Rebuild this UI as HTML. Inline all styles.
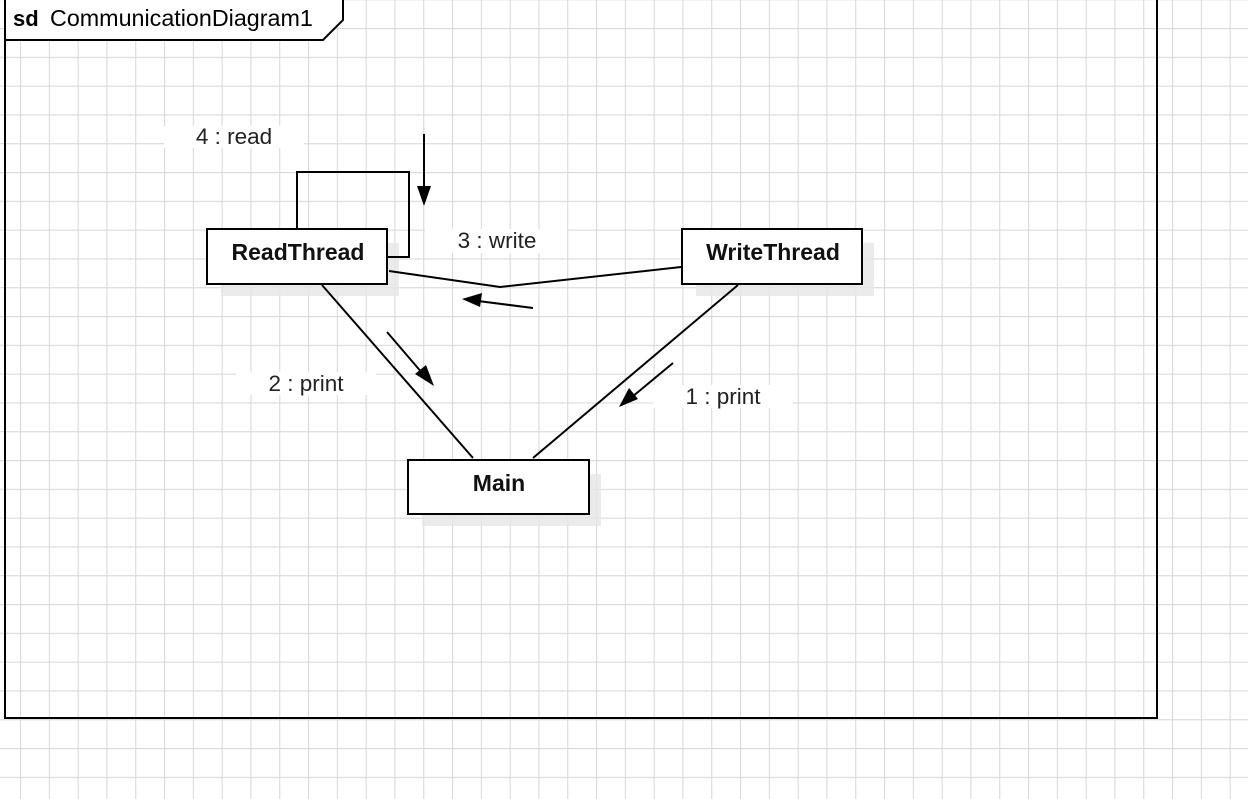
<!DOCTYPE html>
<html><head><meta charset="utf-8"><style>
html,body{margin:0;padding:0;background:#fff;}
svg{display:block;}
text{font-family:"Liberation Sans",Arial,sans-serif;}
</style></head><body>
<svg width="1248" height="799" viewBox="0 0 1248 799" xmlns="http://www.w3.org/2000/svg">
<defs>
<pattern id="g" x="20" y="28" width="28.8" height="28.8" patternUnits="userSpaceOnUse">
<path d="M0 0V28.8M0 0H28.8" stroke="#d9d9d9" stroke-width="2.2" fill="none"/>
</pattern>
</defs>
<rect width="1248" height="799" fill="#fff"/>
<rect x="-10" y="-10" width="1270" height="820" fill="url(#g)"/>
<rect x="5" y="-2" width="1152" height="720" fill="none" stroke="#000" stroke-width="2"/>
<path d="M5 -2H343V20L323 40H5Z" fill="#fff" stroke="#000" stroke-width="2"/>
<text x="13" y="26" font-size="22" font-weight="bold">sd</text>
<text x="50" y="26" font-size="23.3">CommunicationDiagram1</text>
<rect x="221" y="243" width="178" height="53" fill="#e6e6e6" opacity="0.8"/>
<rect x="696" y="243" width="178" height="53" fill="#e6e6e6" opacity="0.8"/>
<rect x="422" y="474" width="179" height="52" fill="#e6e6e6" opacity="0.8"/>
<g stroke="#000" stroke-width="2" fill="none">
<path d="M297 229V172H409V257H387"/>
<path d="M389 271L500 287L681 267"/>
<path d="M322 285L473 458"/>
<path d="M738 285L533 458"/>
<path d="M424 134V190"/>
<path d="M533 308L478 301"/>
<path d="M387 332L423 374"/>
<path d="M673 363L632 397"/>
</g>
<g fill="#000">
<path d="M424 206L417 186H431Z"/>
<path d="M462 299L482 293L480 307Z"/>
<path d="M434 386L415 374L426 365Z"/>
<path d="M619 407L629 388L638 399Z"/>
</g>
<g fill="#fff" stroke="#000" stroke-width="2">
<rect x="207" y="229" width="180" height="55"/>
<rect x="682" y="229" width="180" height="55"/>
<rect x="408" y="460" width="181" height="54"/>
</g>
<g font-size="23" font-weight="bold" text-anchor="middle" fill="#111">
<text x="298" y="260">ReadThread</text>
<text x="773" y="260">WriteThread</text>
<text x="499" y="491">Main</text>
</g>
<g fill="#fff">
<rect x="164" y="126" width="140" height="22"/>
<rect x="425" y="229" width="142" height="24"/>
<rect x="236" y="372" width="140" height="23"/>
<rect x="653" y="385" width="140" height="23"/>
</g>
<g font-size="22.5" fill="#222" text-anchor="middle">
<text x="234" y="144">4 : read</text>
<text x="497" y="248">3 : write</text>
<text x="306" y="391">2 : print</text>
<text x="723" y="404">1 : print</text>
</g>
</svg>
</body></html>
